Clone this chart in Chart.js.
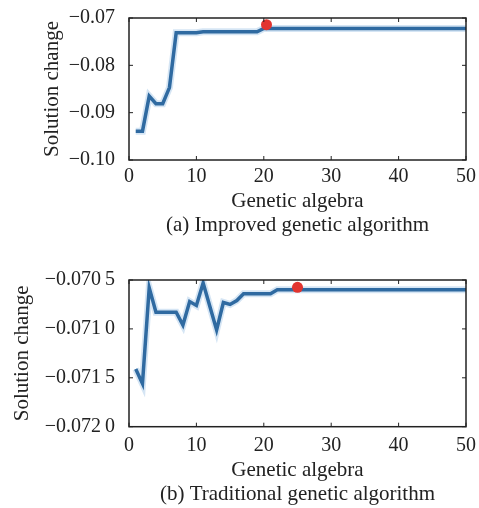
<!DOCTYPE html>
<html>
<head>
<meta charset="utf-8">
<script src="https://cdn.jsdelivr.net/npm/chart.js@4"></script>
<style>
  body { margin: 0; background: #fff; }
  #wrapA { position: absolute; left: 0; top: 0; width: 479px; height: 250px; }
  #wrapB { position: absolute; left: 0; top: 250px; width: 479px; height: 258px; }
</style>
</head>
<body>
<div id="wrapA"><canvas id="chartA"></canvas></div>
<div id="wrapB"><canvas id="chartB"></canvas></div>
<script>
// generations 1..50
const generations = Array.from({ length: 50 }, (_, i) => i + 1);

// (a) improved GA
const improvedValues = [
  -0.0939, -0.0939, -0.0865, -0.0881, -0.0881, -0.0847, -0.0731, -0.0731, -0.0731, -0.0731,
  -0.0729, -0.0729, -0.0729, -0.0729, -0.0729, -0.0729, -0.0729, -0.0729, -0.0729, -0.0722,
  -0.0722, -0.0722, -0.0722, -0.0722, -0.0722, -0.0722, -0.0722, -0.0722, -0.0722, -0.0722,
  -0.0722, -0.0722, -0.0722, -0.0722, -0.0722, -0.0722, -0.0722, -0.0722, -0.0722, -0.0722,
  -0.0722, -0.0722, -0.0722, -0.0722, -0.0722, -0.0722, -0.0722, -0.0722, -0.0722, -0.0722
];
const improvedBest = [{ x: 20.4, y: -0.0714 }];
const improvedTicks = ['\u22120.10', '\u22120.09', '\u22120.08', '\u22120.07'];

// (b) traditional GA
const traditionalValues = [
  -0.07141, -0.07156, -0.07058, -0.07083, -0.07083, -0.07083, -0.07083, -0.07096, -0.07072, -0.07076,
  -0.07053, -0.07077, -0.07101, -0.07073, -0.07075, -0.07071, -0.07064, -0.07064, -0.07064, -0.07064,
  -0.07064, -0.07060, -0.07060, -0.07060, -0.07060, -0.07060, -0.07060, -0.07060, -0.07060, -0.07060,
  -0.07060, -0.07060, -0.07060, -0.07060, -0.07060, -0.07060, -0.07060, -0.07060, -0.07060, -0.07060,
  -0.07060, -0.07060, -0.07060, -0.07060, -0.07060, -0.07060, -0.07060, -0.07060, -0.07060, -0.07060
];
const traditionalBest = [{ x: 25, y: -0.070575 }];
const traditionalTicks = ['\u22120.072\u20090', '\u22120.071\u20095', '\u22120.071\u20090', '\u22120.070\u20095'];

const xTicks = [0, 10, 20, 30, 40, 50];

const serif = 'Liberation Serif, Times New Roman, serif';

// matplotlib-like frame with inward ticks
const framePlugin = {
  id: 'frame',
  afterDraw(chart) {
    const { ctx, chartArea: a, scales } = chart;
    ctx.save();
    ctx.strokeStyle = '#222';
    ctx.lineWidth = 1.5;
    ctx.strokeRect(a.left, a.top, a.right - a.left, a.bottom - a.top);
    ctx.beginPath();
    scales.x.ticks.forEach(t => {
      const px = scales.x.getPixelForValue(t.value);
      ctx.moveTo(px, a.bottom); ctx.lineTo(px, a.bottom - 4);
      ctx.moveTo(px, a.top); ctx.lineTo(px, a.top + 4);
    });
    scales.y.ticks.forEach(t => {
      const py = scales.y.getPixelForValue(t.value);
      ctx.moveTo(a.left, py); ctx.lineTo(a.left + 4, py);
      ctx.moveTo(a.right, py); ctx.lineTo(a.right - 4, py);
    });
    ctx.lineWidth = 1;
    ctx.stroke();
    ctx.restore();
  }
};

function makeChart(id, values, best, yMin, yMax, yStep, yLabels, caption, opts) {
  const pts = generations.map((g, i) => ({ x: g, y: values[i] }));
  return new Chart(document.getElementById(id), {
    type: 'line',
    data: {
      datasets: [
        { data: best, showLine: false, pointRadius: 5.5, pointBackgroundColor: '#e2342f', pointBorderWidth: 0, order: 0 },
        { data: pts, borderColor: '#2f6aa1', borderWidth: 3.5, pointRadius: 0, tension: 0, order: 1 },
        { data: pts, borderColor: 'rgba(150,190,228,0.4)', borderWidth: 7, pointRadius: 0, tension: 0, order: 2 }
      ]
    },
    options: {
      responsive: true,
      maintainAspectRatio: false,
      animation: false,
      layout: { padding: { left: 0, right: 13, top: opts.top, bottom: 0 } },
      plugins: { legend: { display: false }, tooltip: { enabled: false } },
      scales: {
        x: {
          type: 'linear', min: 0, max: 50,
          afterBuildTicks: s => { s.ticks = xTicks.map(v => ({ value: v })); },
          afterFit: s => { s.height = opts.xHeight; },
          grid: { display: false },
          border: { display: false },
          ticks: { color: '#222', padding: opts.xPad, font: { family: serif, size: 20 }, maxRotation: 0 },
          title: {
            display: true, text: ['Genetic algebra', caption], color: '#222',
            font: { family: serif, size: 21, lineHeight: 1.12 },
            padding: { top: 0, bottom: opts.capPad }
          }
        },
        y: {
          min: yMin, max: yMax,
          afterBuildTicks: s => {
            s.ticks = yLabels.map((_, i) => ({ value: yMin + i * yStep }));
          },
          afterFit: s => { s.width = 129; },
          grid: { display: false },
          border: { display: false },
          ticks: {
            color: '#222', padding: 6, font: { family: serif, size: 20 },
            callback: (v, i) => yLabels[i]
          },
          title: {
            display: true, text: 'Solution change', color: '#222',
            font: { family: serif, size: 21, lineHeight: 1.2 },
            padding: { top: opts.yTitlePad, bottom: 0 }
          }
        }
      }
    },
    plugins: [framePlugin]
  });
}

makeChart('chartA', improvedValues, improvedBest, -0.10, -0.07, 0.01, improvedTicks,
  '(a) Improved genetic algorithm', { top: 13, xHeight: 90, xPad: -3, capPad: 13, yTitlePad: 40 });
makeChart('chartB', traditionalValues, traditionalBest, -0.072, -0.0705, 0.0005, traditionalTicks,
  '(b) Traditional genetic algorithm', { top: 30, xHeight: 81.3, xPad: -1, capPad: 2, yTitlePad: 10 });
</script>
</body>
</html>
